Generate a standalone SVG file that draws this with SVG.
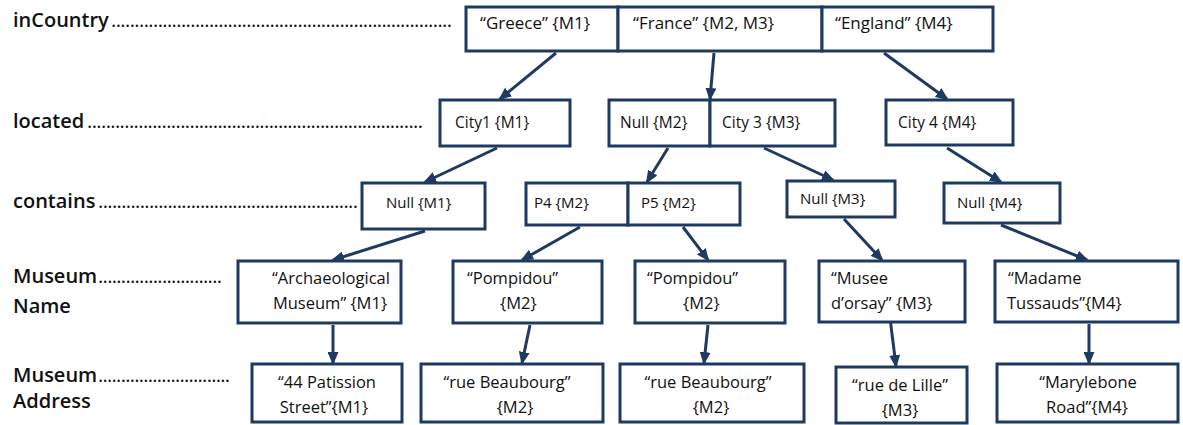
<svg xmlns="http://www.w3.org/2000/svg" width="1183" height="425" viewBox="0 0 1183 425">
<defs>
<style>
.bg{fill:#ffffff}
.box{fill:#ffffff;stroke:#1f3a60;stroke-width:3}
.t{font-family:"Open Sans","Liberation Sans",sans-serif;fill:#111111}
.r1{font-size:17px}
.r2{font-size:15.5px}
.r3{font-size:15px}
.r4{font-size:16.5px}
.lab{font-family:"Open Sans","Liberation Sans",sans-serif;font-size:20px;font-weight:600;fill:#111111}
.dots{font-family:"Open Sans","Liberation Sans",sans-serif;font-size:20px;fill:#111111}
.m{text-anchor:middle}
.edge{stroke:#1f3a60;stroke-width:3;fill:none;marker-end:url(#ah)}
</style>
<marker id="ah" markerUnits="userSpaceOnUse" markerWidth="13" markerHeight="11" refX="11" refY="5.5" orient="auto">
<path d="M0,0 L13,5.5 L0,11 z" fill="#1f3a60"/>
</marker>
</defs>
<rect class="bg" x="0" y="0" width="1183" height="425"/>

<g id="labels">
<text class="lab" x="13" y="27">inCountry</text>
<text class="dots" x="111" y="27" textLength="341" lengthAdjust="spacing">.........................................................................</text>
<text class="lab" x="13" y="128">located</text>
<text class="dots" x="87" y="128" textLength="336" lengthAdjust="spacing">........................................................................</text>
<text class="lab" x="13" y="208">contains</text>
<text class="dots" x="98" y="208" textLength="260" lengthAdjust="spacing">........................................................</text>
<text class="lab" x="13" y="283">Museum</text>
<text class="dots" x="98" y="283" textLength="124" lengthAdjust="spacing">...........................</text>
<text class="lab" x="13" y="313">Name</text>
<text class="lab" x="13" y="382">Museum</text>
<text class="dots" x="98" y="382" textLength="132" lengthAdjust="spacing">.............................</text>
<text class="lab" x="13" y="408">Address</text>
</g>

<g id="connectors">
<line class="edge" x1="556" y1="53" x2="500" y2="99"/>
<line class="edge" x1="714" y1="53" x2="710" y2="99"/>
<line class="edge" x1="884" y1="53" x2="947" y2="99"/>
<line class="edge" x1="497" y1="148" x2="425" y2="182"/>
<line class="edge" x1="668" y1="148" x2="647" y2="182"/>
<line class="edge" x1="764" y1="148" x2="833" y2="180"/>
<line class="edge" x1="947" y1="148" x2="1001" y2="182"/>
<line class="edge" x1="425" y1="231" x2="333" y2="260"/>
<line class="edge" x1="580" y1="227" x2="522" y2="260"/>
<line class="edge" x1="683" y1="227" x2="708" y2="260"/>
<line class="edge" x1="844" y1="219" x2="882" y2="260"/>
<line class="edge" x1="1001" y1="225" x2="1087" y2="260"/>
<line class="edge" x1="333" y1="325" x2="333" y2="363"/>
<line class="edge" x1="530" y1="325" x2="522" y2="363"/>
<line class="edge" x1="708" y1="325" x2="704" y2="363"/>
<line class="edge" x1="890" y1="318" x2="896" y2="366"/>
<line class="edge" x1="1089" y1="324" x2="1089" y2="363"/>
</g>

<g id="greece"><rect class="box" x="466" y="7" width="152" height="44"/><text class="t r1" x="480" y="29">“Greece” {M1}</text></g>
<g id="france"><rect class="box" x="618" y="7" width="204" height="44"/><text class="t r1" x="633" y="29">“France” {M2, M3}</text></g>
<g id="england"><rect class="box" x="822" y="7" width="171" height="44"/><text class="t r1" x="835" y="29">“England” {M4}</text></g>

<g id="city1"><rect class="box" x="440" y="100" width="130" height="46"/><text class="t r2" x="455" y="128">City1 {M1}</text></g>
<g id="null-m2"><rect class="box" x="609" y="100" width="101" height="46"/><text class="t r2" x="620" y="128">Null {M2}</text></g>
<g id="city3"><rect class="box" x="710" y="100" width="125" height="46"/><text class="t r2" x="722" y="128">City 3 {M3}</text></g>
<g id="city4"><rect class="box" x="886" y="100" width="127" height="45"/><text class="t r2" x="898" y="128">City 4 {M4}</text></g>

<g id="null-m1"><rect class="box" x="362" y="183" width="123" height="46"/><text class="t r3" x="386" y="208">Null {M1}</text></g>
<g id="p4"><rect class="box" x="526" y="183" width="102" height="42"/><text class="t r3" x="534" y="208">P4 {M2}</text></g>
<g id="p5"><rect class="box" x="628" y="183" width="112" height="42"/><text class="t r3" x="641" y="208">P5 {M2}</text></g>
<g id="null-m3"><rect class="box" x="787" y="181" width="108" height="36"/><text class="t r3" x="800" y="204">Null {M3}</text></g>
<g id="null-m4"><rect class="box" x="944" y="183" width="116" height="40"/><text class="t r3" x="957" y="208">Null {M4}</text></g>

<g id="archaeological"><rect class="box" x="238" y="261" width="163" height="62"/><text class="t r4 m" x="331" y="284">“Archaeological</text><text class="t r4 m" x="330" y="309">Museum” {M1}</text></g>
<g id="pompidou-1"><rect class="box" x="453" y="261" width="149" height="62"/><text class="t r4" x="467" y="284">“Pompidou”</text><text class="t r4" x="500" y="309">{M2}</text></g>
<g id="pompidou-2"><rect class="box" x="635" y="261" width="150" height="62"/><text class="t r4" x="647" y="284">“Pompidou”</text><text class="t r4" x="683" y="309">{M2}</text></g>
<g id="musee"><rect class="box" x="819" y="261" width="146" height="61"/><text class="t r4" x="831" y="284">“Musee</text><text class="t r4" x="831" y="309">d’orsay” {M3}</text></g>
<g id="madame"><rect class="box" x="995" y="261" width="183" height="61"/><text class="t r4" x="1008" y="284">“Madame</text><text class="t r4" x="1007" y="309">Tussauds”{M4}</text></g>

<g id="patission"><rect class="box" x="252" y="364" width="150" height="58"/><text class="t r4 m" x="327" y="388">“44 Patission</text><text class="t r4 m" x="324" y="413">Street”{M1}</text></g>
<g id="beaubourg-1"><rect class="box" x="421" y="364" width="182" height="58"/><text class="t r4 m" x="507" y="388">“rue Beaubourg”</text><text class="t r4 m" x="515" y="413">{M2}</text></g>
<g id="beaubourg-2"><rect class="box" x="620" y="364" width="184" height="58"/><text class="t r4 m" x="708" y="388">“rue Beaubourg”</text><text class="t r4 m" x="711" y="413">{M2}</text></g>
<g id="lille"><rect class="box" x="836" y="367" width="131" height="56"/><text class="t r4 m" x="900" y="391">“rue de Lille”</text><text class="t r4 m" x="900" y="416">{M3}</text></g>
<g id="marylebone"><rect class="box" x="997" y="364" width="181" height="58"/><text class="t r4 m" x="1088" y="388">“Marylebone</text><text class="t r4 m" x="1087" y="413">Road”{M4}</text></g>
</svg>
